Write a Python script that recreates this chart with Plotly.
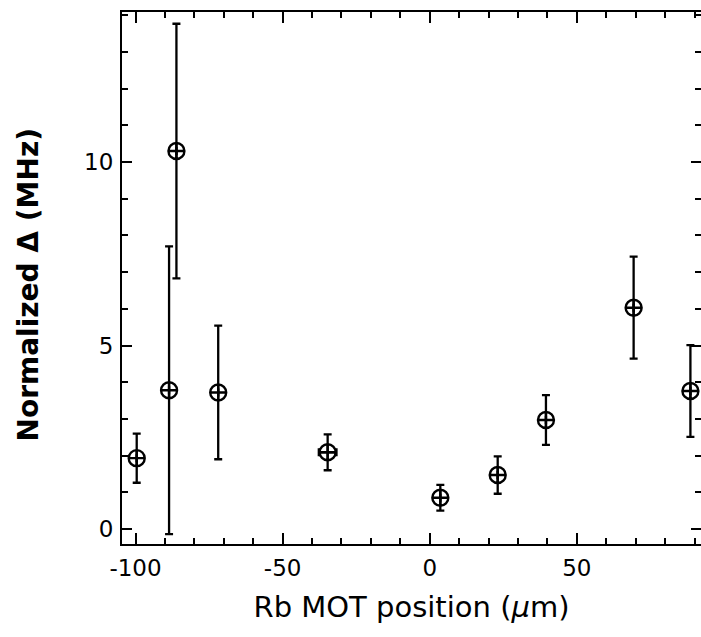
import plotly.graph_objects as go

# Data
x_pos = [-99.6, -88.6, -86.1, -71.9, -34.7, 3.6, 23.1, 39.5, 69.3, 88.6]
delta = [1.93, 3.78, 10.30, 3.72, 2.09, 0.85, 1.47, 2.97, 6.03, 3.76]
delta_err = [0.67, 3.92, 3.47, 1.82, 0.49, 0.35, 0.51, 0.68, 1.39, 1.25]
x_err = [0, 0, 0, 0, 3.0, 0, 0, 0, 0, 0]

x_ticks = [-100, -50, 0, 50]
y_ticks = [0, 5, 10]
x_range = [-104.6, 92.2]
y_range = [-0.41, 14.09]

FONT = "DejaVu Sans"

fig = go.Figure()
fig.add_trace(go.Scatter(
    x=x_pos, y=delta, mode="markers",
    marker=dict(symbol="circle-cross-open", size=16, color="black",
                line=dict(width=2.4, color="black")),
    error_y=dict(type="data", array=delta_err, visible=True,
                 thickness=2.3, width=4, color="black"),
    error_x=dict(type="data", array=x_err, visible=True,
                 thickness=2.3, width=4, color="black"),
    showlegend=False, hoverinfo="x+y",
))
# invisible trace to carry the right-hand tick axis
fig.add_trace(go.Scatter(x=x_pos, y=delta, yaxis="y2", mode="markers",
                         marker=dict(opacity=0), showlegend=False,
                         hoverinfo="skip"))

fig.update_layout(
    width=701, height=637,
    margin=dict(l=122, r=0, t=12, b=93),
    paper_bgcolor="white", plot_bgcolor="white",
    font=dict(family=FONT, color="black"),
    xaxis=dict(
        range=x_range, tickvals=x_ticks, ticktext=[str(v) for v in x_ticks],
        ticks="inside", ticklen=11, tickwidth=2, tickcolor="black",
        showline=True, linewidth=2, linecolor="black", mirror="ticks",
        showgrid=False, zeroline=False,
        tickfont=dict(family=FONT, size=23, color="black"),
        ticklabelstandoff=2,
        minor=dict(dtick=10, tick0=0, ticks="inside", ticklen=6,
                   tickwidth=2, tickcolor="black", showgrid=False),
        title=dict(text="Rb MOT position (<i>μ</i>m)",
                   font=dict(family=FONT, size=29, color="black"),
                   standoff=17),
    ),
    yaxis=dict(
        range=y_range, tickvals=y_ticks, ticktext=[str(v) for v in y_ticks],
        ticks="inside", ticklen=10, tickwidth=2, tickcolor="black",
        showline=True, linewidth=2, linecolor="black", mirror=False,
        showgrid=False, zeroline=False,
        tickfont=dict(family=FONT, size=23, color="black"),
        ticklabelstandoff=2,
        minor=dict(dtick=1, tick0=0, ticks="inside", ticklen=6,
                   tickwidth=2, tickcolor="black", showgrid=False),
    ),
    yaxis2=dict(
        range=y_range, overlaying="y", side="right", anchor="x",
        tickvals=y_ticks, showticklabels=False,
        ticks="inside", ticklen=10, tickwidth=2, tickcolor="black",
        showline=False, showgrid=False, zeroline=False,
        minor=dict(dtick=1, tick0=0, ticks="inside", ticklen=6,
                   tickwidth=2, tickcolor="black", showgrid=False),
    ),
    annotations=[dict(
        text="<b>Normalized Δ (MHz)</b>", textangle=-90,
        xref="paper", yref="paper", x=0, y=0.486,
        xanchor="center", yanchor="middle", xshift=-94, showarrow=False,
        font=dict(family=FONT, size=28, color="black"),
    )],
)

fig.write_html("out.html")
